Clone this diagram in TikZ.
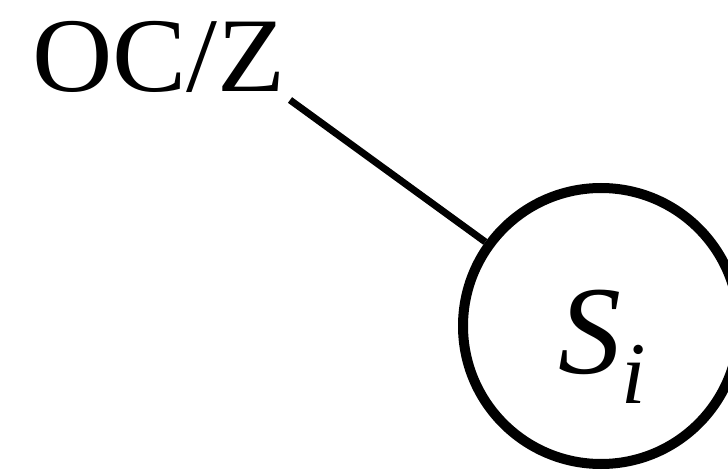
\documentclass[tikz,border=0pt]{standalone}
\usepackage{fontspec}
\setmainfont{Liberation Serif}
\begin{document}
\begin{tikzpicture}[x=1pt,y=-1pt,
  statecirc/.style={circle,draw,line width=10pt,minimum size=276pt,inner sep=0pt},
  link/.style={line width=7pt}]
\useasboundingbox (0,0) rectangle (728,470);
\clip (0,0) rectangle (728,470);
\node[anchor=base west,inner sep=0pt,xscale=1.05] (oc) at (32,92) {\fontsize{106}{110}\selectfont OC/Z};
\node[statecirc] (s) at (601,326) {};
\node[anchor=base west,inner sep=0pt] (si) at (558,373) {\fontsize{126}{130}\selectfont\itshape S\raisebox{-30pt}{\fontsize{88}{90}\selectfont i}};
\coordinate (p) at (290,100);
\draw[link] (p) -- (s);
\end{tikzpicture}
\end{document}
